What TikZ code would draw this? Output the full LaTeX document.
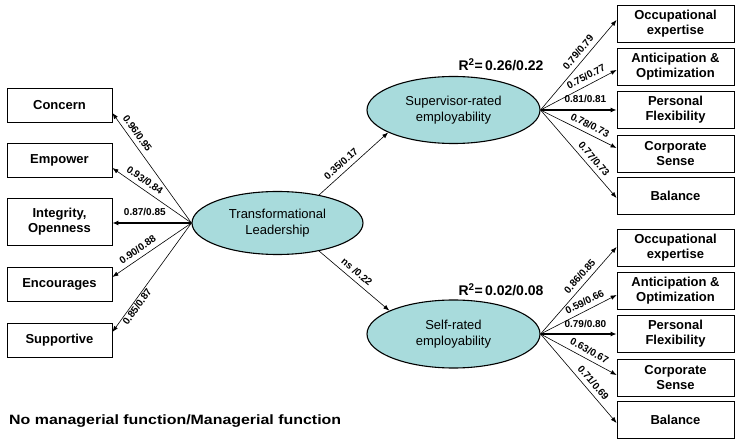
\documentclass[tikz,border=0pt]{standalone}
\usepackage{fontspec}
\setmainfont{Liberation Sans}
\usetikzlibrary{arrows.meta,shapes.geometric}
\definecolor{ellfill}{RGB}{168,219,220}
\begin{document}
\begin{tikzpicture}[x=1pt,y=1pt,
  box/.style={draw, line width=0.8pt, fill=white, align=center, font=\fontsize{13}{15}\selectfont\bfseries, inner sep=0pt},
  lbox/.style={box, minimum width=105pt, minimum height=34pt},
  rbox/.style={box, minimum width=117pt, minimum height=37pt},
  lat/.style={ellipse, draw, line width=1.1pt, fill=ellfill, align=center, font=\fontsize{13}{16}\selectfont, inner sep=0pt},
  arr/.style={-{Latex[length=6pt,width=4.5pt]}, line width=0.6pt},
  bigarr/.style={-{Latex[length=6pt,width=5pt]}, line width=1.6pt},
  coef/.style={font=\fontsize{10}{10}\selectfont\bfseries, inner sep=1pt, sloped, above=3.5pt},
  hcoef/.style={coef, above=1.5pt},
  rsq/.style={font=\fontsize{14}{14}\selectfont\bfseries, inner sep=0pt}
]
\useasboundingbox (0,0) rectangle (735,442);

% left indicators
\node[lbox] (concern) at (59.5,337) {Concern};
\node[lbox] (empower) at (59.5,282) {Empower};
\node[lbox, minimum height=47pt] (integrity) at (59.5,220.5) {Integrity,\\Openness};
\node[lbox] (encourages) at (59.5,157.5) {Encourages};
\node[lbox] (supportive) at (59.5,102) {Supportive};

% latent variables
\node[lat, minimum width=171pt, minimum height=63pt] (tl) at (277.5,219) {Transformational\\Leadership};
\node[lat, minimum width=173pt, minimum height=67pt] (sup) at (453.5,332) {Supervisor-rated\\employability};
\node[lat, minimum width=173pt, minimum height=68pt] (self) at (453.5,108) {Self-rated\\employability};

% right indicators (supervisor)
\node[rbox] (occA) at (675.5,418) {Occupational\\expertise};
\node[rbox] (antA) at (675.5,375) {Anticipation \&\\Optimization};
\node[rbox] (perA) at (675.5,332) {Personal\\Flexibility};
\node[rbox] (corA) at (675.5,288.5) {Corporate\\Sense};
\node[rbox] (balA) at (675.5,246) {Balance};

% right indicators (self)
\node[rbox] (occB) at (675.5,194) {Occupational\\expertise};
\node[rbox] (antB) at (675.5,151) {Anticipation \&\\Optimization};
\node[rbox] (perB) at (675.5,108) {Personal\\Flexibility};
\node[rbox] (corB) at (675.5,64.5) {Corporate\\Sense};
\node[rbox] (balB) at (675.5,22) {Balance};

% R squared
\node[rsq] (r2a) at (501,377) {R\textsuperscript{2}{=}\,0.26/0.22};
\node[rsq] (r2b) at (501,152) {R\textsuperscript{2}{=}\,0.02/0.08};

% left arrows
\draw[arr] (tl.west) -- ([yshift=-8pt]concern.east) node[coef,pos=.77] {0.96/0.95};
\draw[arr] (tl.west) -- ([yshift=-8pt]empower.east) node[coef,pos=.65] {0.93/0.84};
\draw[bigarr] (tl.west) -- ([yshift=-1.5pt]integrity.east) node[hcoef,pos=.59] {0.87/0.85};
\draw[arr] (tl.west) -- ([yshift=7.5pt]encourages.east) node[coef,pos=.62] {0.90/0.88};
\draw[arr] (tl.west) -- ([yshift=8pt]supportive.east) node[coef,pos=.74,below=3.5pt] {0.85/0.87};

% structural paths
\draw[arr] (tl.34) -- (sup.199) node[coef,pos=.40] {0.35/0.17};
\draw[arr] (tl.-34) -- (self.160) node[coef,pos=.46] {ns /0.22};

% supervisor arrows
\draw[arr] (sup.east) -- ([yshift=4pt]occA.west) node[coef,pos=.58] {0.79/0.79};
\draw[arr] (sup.east) -- ([yshift=-3pt]antA.west) node[coef,pos=.65] {0.75/0.77};
\draw[bigarr] (sup.east) -- (perA.west) node[hcoef,pos=.59] {0.81/0.81};
\draw[arr] (sup.east) -- ([yshift=5.5pt]corA.west) node[coef,pos=.60] {0.78/0.73};
\draw[arr] (sup.east) -- ([yshift=-2pt]balA.west) node[coef,pos=.62] {0.77/0.73};

% self arrows
\draw[arr] (self.east) -- ([yshift=1pt]occB.west) node[coef,pos=.60] {0.86/0.85};
\draw[arr] (self.east) -- ([yshift=-4pt]antB.west) node[coef,pos=.63] {0.59/0.66};
\draw[bigarr] (self.east) -- (perB.west) node[hcoef,pos=.59] {0.79/0.80};
\draw[arr] (self.east) -- ([yshift=2.5pt]corB.west) node[coef,pos=.59] {0.63/0.67};
\draw[arr] (self.east) -- ([yshift=-3pt]balB.west) node[coef,pos=.61] {0.71/0.69};

% note
\begin{scope}[shift={(9,21)}, xscale=1.18]
\node[transform shape, anchor=west, inner sep=0pt, font=\fontsize{13.5}{14}\selectfont\bfseries] (note) at (0,0) {No managerial function/Managerial function};
\end{scope}
\end{tikzpicture}
\end{document}
